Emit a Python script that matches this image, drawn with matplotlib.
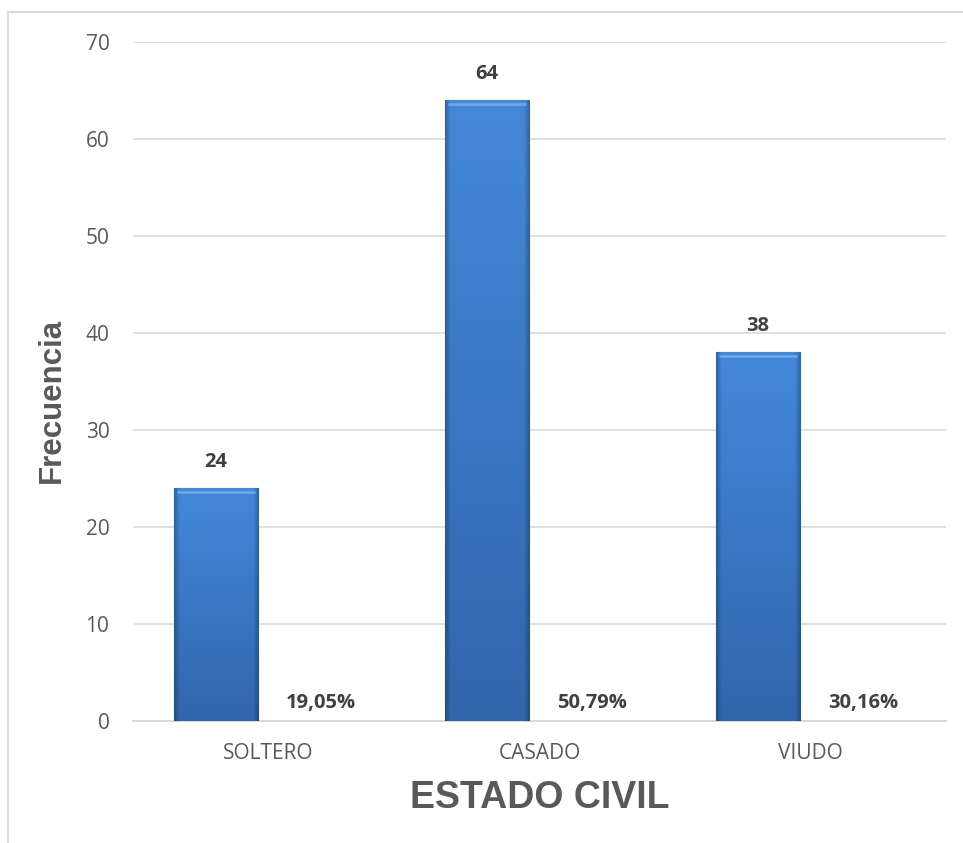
import matplotlib.pyplot as plt
import numpy as np
from matplotlib.patches import Rectangle

categories = ['SOLTERO', 'CASADO', 'VIUDO']
frecuencia = [24, 64, 38]
porcentaje = [19.05, 50.79, 30.16]
y_ticks = [0, 10, 20, 30, 40, 50, 60, 70]

plt.rcParams['font.family'] = ['Open Sans', 'DejaVu Sans']

fig = plt.figure(figsize=(9.63, 8.43), dpi=100)
ax = fig.add_axes([133 / 963, 1 - 721 / 843, (946 - 133) / 963, (721 - 42) / 843])

# outer chart frame (cropped at right and bottom)
fig.patches.append(Rectangle((8 / 963, -0.05), 1.2, 1.05 - 12 / 843,
                             transform=fig.transFigure, fill=False,
                             edgecolor='#D9D9D9', linewidth=1.5))

x = np.arange(len(categories))
offset = 0.194
width = 0.31

bars = ax.bar(x - offset, frecuencia, width, color='#3A78C8',
              edgecolor='#2C5A95', linewidth=0.8, zorder=3)


def bar_gradient(nx=60, ny=200):
    top = np.array([0x44, 0x88, 0xDA]) / 255
    bot = np.array([0x31, 0x66, 0xAC]) / 255
    v = np.linspace(0, 1, ny)[:, None]
    u = np.linspace(0, 1, nx)[None, :]
    img = top * (1 - v[..., None]) + bot * v[..., None]
    img = np.broadcast_to(img, (ny, nx, 3)).copy()
    edge = np.minimum(u, 1 - u)
    dark = np.clip(1 - edge / 0.06, 0, 1)[..., None] * 0.25
    img = img * (1 - dark)
    return img


grad = bar_gradient()
for b in bars:
    x0, y0 = b.get_x(), b.get_y()
    w, h = b.get_width(), b.get_height()
    im = ax.imshow(grad, extent=(x0, x0 + w, y0, y0 + h), aspect='auto',
                   origin='upper', zorder=3, interpolation='bilinear')
    im.set_clip_path(b)
    # light bevel on top
    ax.plot([x0 + w * 0.04, x0 + w * 0.96], [y0 + h - 0.35, y0 + h - 0.35],
            color='#6FA6E6', linewidth=2, zorder=4, solid_capstyle='butt')

for xi, v in zip(x, frecuencia):
    ax.annotate(str(v), (xi - offset, v), xytext=(0, 12), textcoords='offset points',
                ha='center', va='bottom', fontsize=14.5, fontweight='bold', color='#404040')

for xi, p in zip(x, porcentaje):
    ax.annotate(f'{p:.2f}%'.replace('.', ','), (xi + offset, 0), xytext=(0, 6),
                textcoords='offset points', ha='center', va='bottom',
                fontsize=14.5, fontweight='bold', color='#404040')

ax.set_xlim(-0.5, 2.5)
ax.set_ylim(0, 70)
ax.set_yticks(y_ticks)
ax.set_xticks(x)
ax.set_xticklabels(categories)
ax.tick_params(axis='both', length=0, labelsize=15, colors='#595959')
ax.tick_params(axis='x', pad=16)
ax.tick_params(axis='y', pad=17)
ax.grid(axis='y', color='#D9D9D9', linewidth=1.2, zorder=0)
ax.set_axisbelow(True)
for s in ['top', 'right', 'left']:
    ax.spines[s].set_visible(False)
ax.spines['bottom'].set_color('#D9D9D9')
ax.spines['bottom'].set_linewidth(1.5)

fig.text(52 / 963, 1 - 400 / 843, 'Frecuencia', rotation=90, ha='center', va='center',
         fontsize=22.5, fontweight='bold', color='#595959', family='Liberation Sans')
fig.text(539.5 / 963, 1 - 798 / 843, 'ESTADO CIVIL', ha='center', va='center',
         fontsize=27, fontweight='bold', color='#595959', family='Liberation Sans')

fig.savefig('out.png', dpi=100)
